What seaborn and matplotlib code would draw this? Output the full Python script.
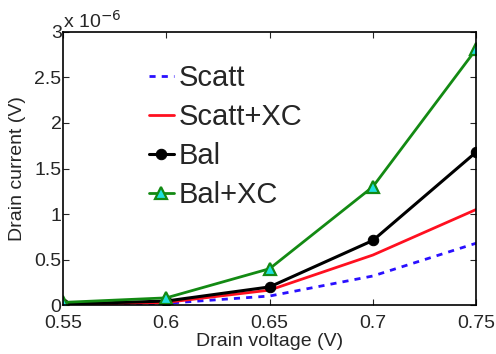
import matplotlib
matplotlib.use("Agg")
import matplotlib.pyplot as plt
import seaborn as sns
import pandas as pd

# Data (drain current in units of 1e-6)
voltage = [0.55, 0.60, 0.65, 0.70, 0.75]
scatt = [0.003, 0.02, 0.10, 0.32, 0.68]
scatt_xc = [0.006, 0.03, 0.165, 0.55, 1.05]
bal = [0.012, 0.045, 0.20, 0.71, 1.68]
bal_xc = [0.03, 0.08, 0.40, 1.30, 2.81]
series_names = ["Scatt", "Scatt+XC", "Bal", "Bal+XC"]
xticks = [0.55, 0.6, 0.65, 0.7, 0.75]
xtick_labels = ["0.55", "0.6", "0.65", "0.7", "0.75"]
yticks = [0, 0.5, 1, 1.5, 2, 2.5, 3]
ytick_labels = ["0", "0.5", "1", "1.5", "2", "2.5", "3"]

sns.set_style("ticks")
plt.rcParams["font.family"] = ["Liberation Sans", "DejaVu Sans"]

fig = plt.figure(figsize=(4.96, 3.54), dpi=100)
ax = fig.add_axes([0.127, 0.138, 0.833, 0.772])

df = pd.DataFrame({"v": voltage, "Scatt": scatt, "Scatt+XC": scatt_xc,
                   "Bal": bal, "Bal+XC": bal_xc})

sns.lineplot(data=df, x="v", y="Scatt", ax=ax, color="#2a10ff", lw=2,
             linestyle=(0, (2.2, 2.2)), label=series_names[0])
sns.lineplot(data=df, x="v", y="Scatt+XC", ax=ax, color="#ff1020", lw=2,
             label=series_names[1])
sns.lineplot(data=df, x="v", y="Bal", ax=ax, color="black", lw=2.2,
             marker="o", markersize=7.5, markeredgecolor="black",
             markerfacecolor="black", label=series_names[2])
sns.lineplot(data=df, x="v", y="Bal+XC", ax=ax, color="#138a13", lw=2,
             marker="^", markersize=9, markeredgecolor="#138a13",
             markeredgewidth=1.6, markerfacecolor="#20e0e0", label=series_names[3])

ax.set_xlim(0.55, 0.75)
ax.set_ylim(0, 3)
ax.set_xticks(xticks)
ax.set_xticklabels(xtick_labels)
ax.set_yticks(yticks)
ax.set_yticklabels(ytick_labels)
ax.tick_params(direction="in", top=True, right=True, labelsize=14,
               length=4, width=0.8)
ax.tick_params(axis="x", pad=7)
ax.tick_params(axis="y", pad=1)
for s in ax.spines.values():
    s.set_visible(True)
    s.set_linewidth(1.2)
    s.set_color("black")

ax.set_xlabel("Drain voltage (V)", fontsize=14, labelpad=1)
ax.set_ylabel("Drain current (V)", fontsize=14, labelpad=6)
ax.text(0.0, 1.0, r"x 10$^{-6}$", transform=ax.transAxes, fontsize=14,
        ha="left", va="bottom")

leg = ax.legend(loc="upper left", bbox_to_anchor=(0.18, 0.925), frameon=False,
                fontsize=21, handlelength=0.85, handletextpad=0.15,
                labelspacing=0.38, borderaxespad=0)

fig.savefig("out.png", dpi=100, facecolor="white")
